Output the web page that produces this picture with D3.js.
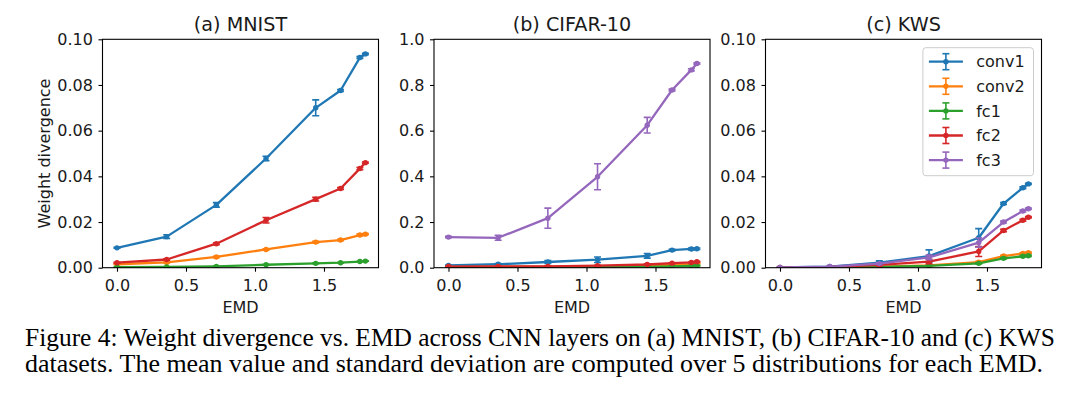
<!DOCTYPE html>
<html>
<head>
<meta charset="utf-8">
<script src="https://cdn.jsdelivr.net/npm/d3@7"></script>
<style>
  body { margin: 0; background: #fff; }
  svg { display: block; }
</style>
</head>
<body>
<div id="container"></div>
<script>
// data
var emd = [0, 0.36, 0.72, 1.08, 1.44, 1.62, 1.76, 1.80];
var layers = ["conv1", "conv2", "fc1", "fc2", "fc3"];
var colors = ["#1f77b4", "#ff7f0e", "#2ca02c", "#d62728", "#9467bd"];
var xTicks = [0, 0.5, 1.0, 1.5];
var yTicksSmall = [0, 0.02, 0.04, 0.06, 0.08, 0.10];
var yTicksLarge = [0, 0.2, 0.4, 0.6, 0.8, 1.0];
var titles = ["(a) MNIST", "(b) CIFAR-10", "(c) KWS"];

// (a) MNIST, no fc3
var mnist_conv1    = [0.0087, 0.0136, 0.0275, 0.0478, 0.0700, 0.0776, 0.0920, 0.0936];
var mnist_conv1_sd = [0.0002, 0.0008, 0.0010, 0.0010, 0.0035, 0.0004, 0.0004, 0.0003];
var mnist_conv2    = [0.0015, 0.0023, 0.0047, 0.0080, 0.0112, 0.0121, 0.0143, 0.0147];
var mnist_conv2_sd = [0.0001, 0.0002, 0.0003, 0.0003, 0.0004, 0.0003, 0.0004, 0.0003];
var mnist_fc1      = [0.0002, 0.0003, 0.0006, 0.0013, 0.0019, 0.0022, 0.0027, 0.0029];
var mnist_fc1_sd   = [0.0001, 0.0001, 0.0001, 0.0001, 0.0001, 0.0001, 0.0001, 0.0001];
var mnist_fc2      = [0.0022, 0.0036, 0.0105, 0.0208, 0.0300, 0.0347, 0.0434, 0.0460];
var mnist_fc2_sd   = [0.0002, 0.0003, 0.0004, 0.0012, 0.0008, 0.0004, 0.0005, 0.0003];

// (b) CIFAR-10
var cifar_conv1    = [0.010, 0.015, 0.025, 0.035, 0.052, 0.077, 0.082, 0.083];
var cifar_conv1_sd = [0.002, 0.003, 0.006, 0.012, 0.010, 0.004, 0.004, 0.003];
var cifar_conv2    = [0.003, 0.004, 0.005, 0.006, 0.009, 0.013, 0.016, 0.018];
var cifar_conv2_sd = [0.001, 0.001, 0.001, 0.001, 0.002, 0.002, 0.002, 0.002];
var cifar_fc1      = [0.001, 0.001, 0.002, 0.003, 0.004, 0.006, 0.008, 0.009];
var cifar_fc1_sd   = [0.001, 0.001, 0.001, 0.001, 0.001, 0.001, 0.001, 0.001];
var cifar_fc2      = [0.005, 0.006, 0.006, 0.009, 0.014, 0.020, 0.023, 0.026];
var cifar_fc2_sd   = [0.001, 0.001, 0.002, 0.002, 0.003, 0.002, 0.002, 0.002];
var cifar_fc3      = [0.134, 0.131, 0.217, 0.398, 0.624, 0.778, 0.866, 0.894];
var cifar_fc3_sd   = [0.003, 0.011, 0.044, 0.057, 0.034, 0.004, 0.005, 0.003];

// (c) KWS
var kws_conv1    = [0.0001, 0.0005, 0.0022, 0.0051, 0.0131, 0.0281, 0.0350, 0.0367];
var kws_conv1_sd = [0.0001, 0.0002, 0.0008, 0.0027, 0.0040, 0.0004, 0.0004, 0.0003];
var kws_conv2    = [0.0000, 0.0002, 0.0005, 0.0010, 0.0024, 0.0051, 0.0062, 0.0066];
var kws_conv2_sd = [0.0000, 0.0001, 0.0001, 0.0002, 0.0004, 0.0003, 0.0003, 0.0003];
var kws_fc1      = [0.0000, 0.0002, 0.0004, 0.0008, 0.0019, 0.0041, 0.0050, 0.0052];
var kws_fc1_sd   = [0.0000, 0.0001, 0.0001, 0.0002, 0.0003, 0.0003, 0.0003, 0.0003];
var kws_fc2      = [0.0001, 0.0003, 0.0012, 0.0027, 0.0071, 0.0163, 0.0208, 0.0221];
var kws_fc2_sd   = [0.0000, 0.0001, 0.0004, 0.0010, 0.0022, 0.0005, 0.0004, 0.0003];
var kws_fc3      = [0.0001, 0.0005, 0.0018, 0.0045, 0.0110, 0.0200, 0.0248, 0.0258];
var kws_fc3_sd   = [0.0000, 0.0001, 0.0004, 0.0010, 0.0020, 0.0004, 0.0004, 0.0003];

var captionLines = [
  "Figure 4: Weight divergence vs. EMD across CNN layers on (a) MNIST, (b) CIFAR-10 and (c) KWS",
  "datasets. The mean value and standard deviation are computed over 5 distributions for each EMD."
];

// layout
var W = 1070, H = 394;
var panelLeft = [102.5, 434, 765.5];
var plotTop = 39.3, pw = 276, ph = 228.4;
var font = "DejaVu Sans";

var svg = d3.select("#container")
  .append("svg")
    .attr("width", W)
    .attr("height", H);

function series(idx, mean, sd) {
  return { name: layers[idx], color: colors[idx], mean: mean, sd: sd };
}

var panels = [
  { yMax: 0.10, ticks: yTicksSmall, fmt: d3.format(".2f"),
    data: [series(0, mnist_conv1, mnist_conv1_sd), series(1, mnist_conv2, mnist_conv2_sd),
           series(2, mnist_fc1, mnist_fc1_sd), series(3, mnist_fc2, mnist_fc2_sd)] },
  { yMax: 1.0, ticks: yTicksLarge, fmt: d3.format(".1f"),
    data: [series(0, cifar_conv1, cifar_conv1_sd), series(1, cifar_conv2, cifar_conv2_sd),
           series(2, cifar_fc1, cifar_fc1_sd), series(3, cifar_fc2, cifar_fc2_sd),
           series(4, cifar_fc3, cifar_fc3_sd)] },
  { yMax: 0.10, ticks: yTicksSmall, fmt: d3.format(".2f"),
    data: [series(0, kws_conv1, kws_conv1_sd), series(1, kws_conv2, kws_conv2_sd),
           series(2, kws_fc1, kws_fc1_sd), series(3, kws_fc2, kws_fc2_sd),
           series(4, kws_fc3, kws_fc3_sd)] }
];

panels.forEach(function(p, i) {
  var g = svg.append("g")
    .attr("transform", "translate(" + panelLeft[i] + "," + plotTop + ")");

  var x = d3.scaleLinear().domain([-0.105, 1.895]).range([0, pw]);
  var y = d3.scaleLinear().domain([0, p.yMax]).range([ph, 0]);

  g.append("clipPath").attr("id", "clip" + i)
    .append("rect").attr("width", pw).attr("height", ph);

  // axes
  var xa = g.append("g")
    .attr("transform", "translate(0," + ph + ")")
    .call(d3.axisBottom(x).tickValues(xTicks).tickFormat(d3.format(".1f"))
      .tickSize(4).tickSizeOuter(0).tickPadding(8));
  var ya = g.append("g")
    .call(d3.axisLeft(y).tickValues(p.ticks).tickFormat(p.fmt)
      .tickSize(4).tickSizeOuter(0).tickPadding(5.6));
  [xa, ya].forEach(function(a) {
    a.select(".domain").remove();
    a.selectAll("line").attr("stroke", "#000").attr("stroke-width", 1.1);
    a.selectAll("text")
      .attr("font-family", font).attr("font-size", 16).attr("fill", "#1a1a1a");
  });

  // lines, error bars, dots
  var plot = g.append("g").attr("clip-path", "url(#clip" + i + ")");
  var line = d3.line()
    .x(function(d, k) { return x(emd[k]); })
    .y(function(d) { return y(d); });

  p.data.forEach(function(s) {
    var sg = plot.append("g");
    sg.append("path")
      .attr("d", line(s.mean))
      .attr("fill", "none")
      .attr("stroke", s.color)
      .attr("stroke-width", 2.3)
      .attr("stroke-linejoin", "round");

    var pts = s.mean.map(function(m, k) { return { x: emd[k], m: m, e: s.sd[k] }; });
    var eb = sg.selectAll(".eb").data(pts).enter().append("g");
    eb.append("line")
      .attr("x1", function(d) { return x(d.x); }).attr("x2", function(d) { return x(d.x); })
      .attr("y1", function(d) { return y(d.m - d.e); }).attr("y2", function(d) { return y(d.m + d.e); })
      .attr("stroke", s.color).attr("stroke-width", 1.6);
    [-1, 1].forEach(function(sign) {
      eb.append("line")
        .attr("x1", function(d) { return x(d.x) - 3.5; }).attr("x2", function(d) { return x(d.x) + 3.5; })
        .attr("y1", function(d) { return y(d.m + sign * d.e); })
        .attr("y2", function(d) { return y(d.m + sign * d.e); })
        .attr("stroke", s.color).attr("stroke-width", 1.6);
    });

    sg.selectAll("circle").data(pts).enter().append("circle")
      .attr("cx", function(d) { return x(d.x); })
      .attr("cy", function(d) { return y(d.m); })
      .attr("r", 2.7)
      .attr("fill", s.color);
  });

  // frame
  g.append("rect")
    .attr("width", pw).attr("height", ph)
    .attr("fill", "none").attr("stroke", "#000").attr("stroke-width", 1.1);

  // title and x label
  g.append("text")
    .attr("x", pw / 2).attr("y", 31 - plotTop)
    .attr("text-anchor", "middle")
    .attr("font-family", font).attr("font-size", 19.2).attr("fill", "#1a1a1a")
    .text(titles[i]);
  g.append("text")
    .attr("x", pw / 2).attr("y", 312.7 - plotTop)
    .attr("text-anchor", "middle")
    .attr("font-family", font).attr("font-size", 16).attr("fill", "#1a1a1a")
    .text("EMD");

  if (i === 0) {
    g.append("text")
      .attr("transform", "translate(" + (50 - panelLeft[0]) + "," + (ph / 2) + ") rotate(-90)")
      .attr("text-anchor", "middle")
      .attr("font-family", font).attr("font-size", 16).attr("fill", "#1a1a1a")
      .text("Weight divergence");
  }

  if (i === 2) {
    // legend
    var lx = pw - 8 - 110.6, ly = 8.4;
    var lg = g.append("g").attr("transform", "translate(" + lx + "," + ly + ")");
    lg.append("rect")
      .attr("width", 110.6).attr("height", 128)
      .attr("rx", 3).attr("ry", 3)
      .attr("fill", "#fff").attr("fill-opacity", 0.8)
      .attr("stroke", "#cccccc").attr("stroke-width", 1);
    layers.forEach(function(name, k) {
      var cy = 14 + k * 24.6, hx = 6, hw = 34;
      var c = colors[k];
      lg.append("line")
        .attr("x1", hx).attr("x2", hx + hw).attr("y1", cy).attr("y2", cy)
        .attr("stroke", c).attr("stroke-width", 2.3);
      lg.append("line")
        .attr("x1", hx + hw / 2).attr("x2", hx + hw / 2).attr("y1", cy - 8).attr("y2", cy + 8)
        .attr("stroke", c).attr("stroke-width", 1.6);
      [-8, 8].forEach(function(o) {
        lg.append("line")
          .attr("x1", hx + hw / 2 - 3.5).attr("x2", hx + hw / 2 + 3.5)
          .attr("y1", cy + o).attr("y2", cy + o)
          .attr("stroke", c).attr("stroke-width", 1.6);
      });
      lg.append("circle").attr("cx", hx + hw / 2).attr("cy", cy).attr("r", 2.7).attr("fill", c);
      lg.append("text")
        .attr("x", 53.3).attr("y", cy).attr("dy", "0.36em")
        .attr("font-family", font).attr("font-size", 16).attr("fill", "#1a1a1a")
        .text(name);
    });
  }
});

// caption
var capLen = [1030, 1018];
captionLines.forEach(function(t, k) {
  svg.append("text")
    .attr("x", 25).attr("y", 345.7 + k * 26)
    .attr("font-family", "Liberation Serif").attr("font-size", 25.5)
    .attr("fill", "#000")
    .attr("textLength", capLen[k]).attr("lengthAdjust", "spacingAndGlyphs")
    .text(t);
});
</script>
</body>
</html>
